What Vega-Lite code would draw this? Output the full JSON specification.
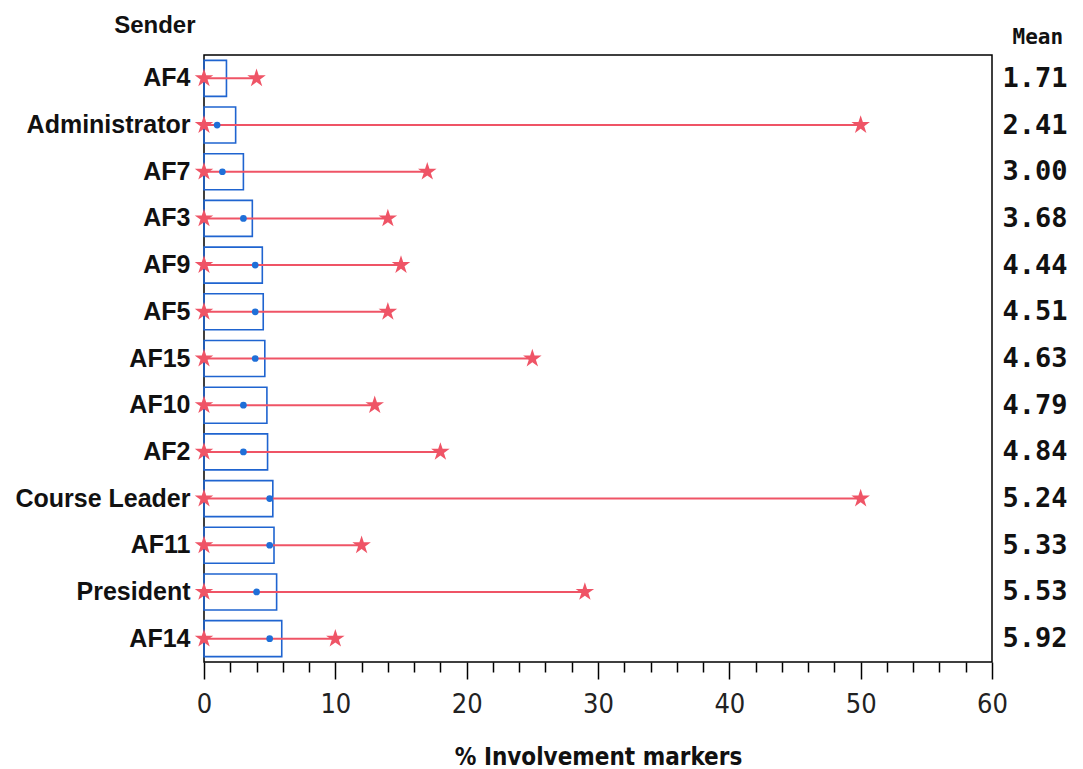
{
  "$schema": "https://vega.github.io/schema/vega-lite/v6.json",
  "width": 788,
  "height": 607,
  "autosize": {"type": "none"},
  "padding": {"left": 204, "top": 55, "right": 91, "bottom": 107},
  "background": "white",
  "config": {"view": {"stroke": "black", "strokeWidth": 1.5}},
  "data": {"values": [
    {"Sender": "AF4", "Mean": 1.71, "MeanLabel": "1.71", "Median": null, "Min": 0, "Max": 4},
    {"Sender": "Administrator", "Mean": 2.41, "MeanLabel": "2.41", "Median": 1, "Min": 0, "Max": 50},
    {"Sender": "AF7", "Mean": 3.0, "MeanLabel": "3.00", "Median": 1.4, "Min": 0, "Max": 17},
    {"Sender": "AF3", "Mean": 3.68, "MeanLabel": "3.68", "Median": 3, "Min": 0, "Max": 14},
    {"Sender": "AF9", "Mean": 4.44, "MeanLabel": "4.44", "Median": 3.9, "Min": 0, "Max": 15},
    {"Sender": "AF5", "Mean": 4.51, "MeanLabel": "4.51", "Median": 3.9, "Min": 0, "Max": 14},
    {"Sender": "AF15", "Mean": 4.63, "MeanLabel": "4.63", "Median": 3.9, "Min": 0, "Max": 25},
    {"Sender": "AF10", "Mean": 4.79, "MeanLabel": "4.79", "Median": 3, "Min": 0, "Max": 13},
    {"Sender": "AF2", "Mean": 4.84, "MeanLabel": "4.84", "Median": 3, "Min": 0, "Max": 18},
    {"Sender": "Course Leader", "Mean": 5.24, "MeanLabel": "5.24", "Median": 5, "Min": 0, "Max": 50},
    {"Sender": "AF11", "Mean": 5.33, "MeanLabel": "5.33", "Median": 5, "Min": 0, "Max": 12},
    {"Sender": "President", "Mean": 5.53, "MeanLabel": "5.53", "Median": 4, "Min": 0, "Max": 29},
    {"Sender": "AF14", "Mean": 5.92, "MeanLabel": "5.92", "Median": 5, "Min": 0, "Max": 10}
  ]},
  "resolve": {"scale": {"y": "independent", "x": "independent"}, "axis": {"y": "independent", "x": "independent"}},
  "layer": [
    {
      "encoding": {
        "y": {
          "field": "Sender", "type": "nominal",
          "sort": {"field": "Mean", "op": "max", "order": "ascending"},
          "scale": {"paddingInner": 0, "paddingOuter": 0},
          "axis": {
            "title": "Sender", "titleAngle": 0, "titleAlign": "right", "titleBaseline": "middle",
            "titleX": -9, "titleY": -30, "titleFont": "Liberation Sans", "titleFontSize": 24, "titleFontWeight": "bold", "titleColor": "#111",
            "domain": false, "ticks": false, "labelPadding": 14,
            "labelFont": "Liberation Sans", "labelFontSize": 25, "labelFontWeight": "bold", "labelColor": "#111"
          }
        }
      },
      "layer": [
        {
          "mark": {"type": "bar", "size": 36, "fillOpacity": 0, "stroke": "#1f64d0", "strokeWidth": 1.6},
          "encoding": {
            "x": {
              "field": "Mean", "type": "quantitative",
              "scale": {"domain": [0, 60], "nice": false, "zero": true},
              "axis": {
                "orient": "bottom",
                "title": "% Involvement markers",
                "values": [0, 10, 20, 30, 40, 50, 60],
                "labelOverlap": false, "labelFlush": false,
                "tickSize": 17,
                "tickColor": "black", "tickWidth": 1.5,
                "domain": false, "grid": false,
                "labelFont": "DejaVu Sans Condensed, Liberation Sans", "labelFontSize": 27, "labelColor": "#222",
                "labelPadding": 12,
                "titleFont": "DejaVu Sans Condensed, Liberation Sans", "titleFontSize": 24, "titleFontWeight": "bold", "titleColor": "#111",
                "titlePadding": 28
              }
            }
          }
        },
        {
          "mark": {"type": "rule", "color": "#ef5466", "strokeWidth": 2},
          "encoding": {
            "x": {"field": "Min", "type": "quantitative"},
            "x2": {"field": "Max"}
          }
        },
        {
          "mark": {"type": "point", "shape": "circle", "filled": true, "color": "#1f6fd8", "size": 45, "opacity": 1},
          "encoding": {"x": {"field": "Median", "type": "quantitative"}}
        },
        {
          "mark": {"type": "point", "shape": "M0,-1L0.225,-0.309L0.951,-0.309L0.363,0.118L0.588,0.809L0,0.382L-0.588,0.809L-0.363,0.118L-0.951,-0.309L-0.225,-0.309Z", "filled": true, "color": "#ef5466", "size": 380, "opacity": 1},
          "encoding": {"x": {"field": "Min", "type": "quantitative"}}
        },
        {
          "mark": {"type": "point", "shape": "M0,-1L0.225,-0.309L0.951,-0.309L0.363,0.118L0.588,0.809L0,0.382L-0.588,0.809L-0.363,0.118L-0.951,-0.309L-0.225,-0.309Z", "filled": true, "color": "#ef5466", "size": 380, "opacity": 1},
          "encoding": {"x": {"field": "Max", "type": "quantitative"}}
        }
      ]
    },
    {
      "mark": {"type": "point", "opacity": 0},
      "encoding": {
        "x": {
          "field": "Mean", "type": "quantitative",
          "scale": {"domain": [0, 60], "nice": false, "zero": true},
          "axis": {
            "orient": "bottom",
            "title": null, "labels": false, "domain": false, "grid": false,
            "values": [2,4,6,8,12,14,16,18,22,24,26,28,32,34,36,38,42,44,46,48,52,54,56,58],
            "tickSize": 10, "tickColor": "black", "tickWidth": 1.5
          }
        },
        "y": {
          "field": "MeanLabel", "type": "nominal", "sort": "ascending",
          "scale": {"paddingInner": 0, "paddingOuter": 0},
          "axis": {
            "orient": "right", "title": "Mean", "titleAngle": 0, "titleAlign": "left", "titleBaseline": "middle",
            "titleX": 20, "titleY": -18, "titleFont": "DejaVu Sans Mono", "titleFontSize": 21, "titleFontWeight": "bold", "titleColor": "#111",
            "domain": false, "ticks": false, "labelPadding": 10,
            "labelFont": "DejaVu Sans Mono", "labelFontSize": 27, "labelFontWeight": "bold", "labelColor": "#111"
          }
        }
      }
    }
  ]
}
